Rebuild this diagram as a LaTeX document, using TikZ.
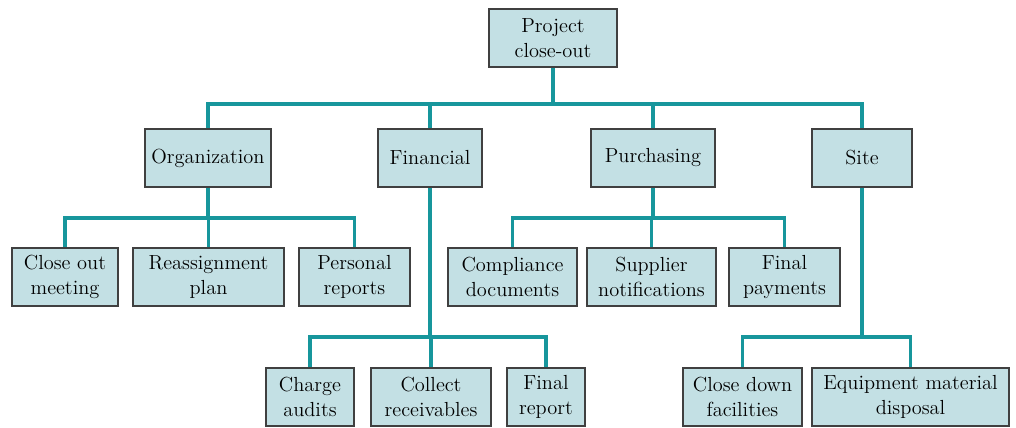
\documentclass[tikz,border=0pt]{standalone}
\usetikzlibrary{positioning}

\definecolor{boxfill}{HTML}{C3E0E4}
\definecolor{linkteal}{HTML}{17969C}

\begin{document}
\begin{tikzpicture}[
    x=0.02cm, y=-0.02cm,
    box/.style={rectangle, draw=black!75, line width=0.8pt, fill=boxfill,
                minimum height=1.16cm, align=center, inner sep=1pt,
                font=\fontsize{11.6}{14}\selectfont},
    link/.style={draw=linkteal, line width=1.9pt}
]
\useasboundingbox (0,0) rectangle (1016,428);

% top level
\node[box, minimum width=2.56cm] (pco) at (553,38) {Project\\close-out};

% second level
\node[box, minimum width=2.52cm] (org) at (208,158) {Organization};
\node[box, minimum width=2.08cm] (fin) at (430,158) {Financial};
\node[box, minimum width=2.48cm] (pur) at (653,158) {Purchasing};
\node[box, minimum width=2.00cm] (site) at (862,158) {Site};

% organization
\node[box, minimum width=2.12cm] (meet) at (65,277) {Close out\\meeting};
\node[box, minimum width=3.02cm] (reas) at (208.5,277) {Reassignment\\plan};
\node[box, minimum width=2.22cm] (pers) at (354.5,277) {Personal\\reports};

% purchasing
\node[box, minimum width=2.58cm] (comp) at (512.5,277) {Compliance\\documents};
\node[box, minimum width=2.58cm] (supp) at (651.5,277) {Supplier\\notifications};
\node[box, minimum width=2.22cm] (fpay) at (784.5,277) {Final\\payments};

% financial
\node[box, minimum width=1.76cm] (audit) at (310,397) {Charge\\audits};
\node[box, minimum width=2.40cm] (recv) at (431,397) {Collect\\receivables};
\node[box, minimum width=1.56cm] (frep) at (546,397) {Final\\report};

% site
\node[box, minimum width=2.38cm] (facil) at (742.5,397) {Close down\\facilities};
\node[box, minimum width=3.94cm] (disp) at (910.5,397) {Equipment material\\disposal};

% bus lines
\coordinate (topbus) at (553,104);
\coordinate (orgbus) at (208,218);
\coordinate (purbus) at (653,218);
\coordinate (finbus) at (430,337);
\coordinate (sitebus) at (862,337);

\draw[link] (pco) -- (topbus);
\draw[link] (org.north) |- (topbus) -| (site.north);
\draw[link] (fin.north) -- (fin.north |- topbus);
\draw[link] (pur.north) -- (pur.north |- topbus);

\draw[link] (org) -- (orgbus);
\draw[link] (meet.north) |- (orgbus) -| (pers.north);
\draw[link] (reas.north) -- (reas.north |- orgbus);

\draw[link] (pur) -- (purbus);
\draw[link] (comp.north) |- (purbus) -| (fpay.north);
\draw[link] (supp.north) -- (supp.north |- purbus);

\draw[link] (fin) -- (finbus);
\draw[link] (audit.north) |- (finbus) -| (frep.north);
\draw[link] (recv.north) -- (recv.north |- finbus);

\draw[link] (site) -- (sitebus);
\draw[link] (facil.north) |- (sitebus) -| (disp.north);
\end{tikzpicture}
\end{document}
